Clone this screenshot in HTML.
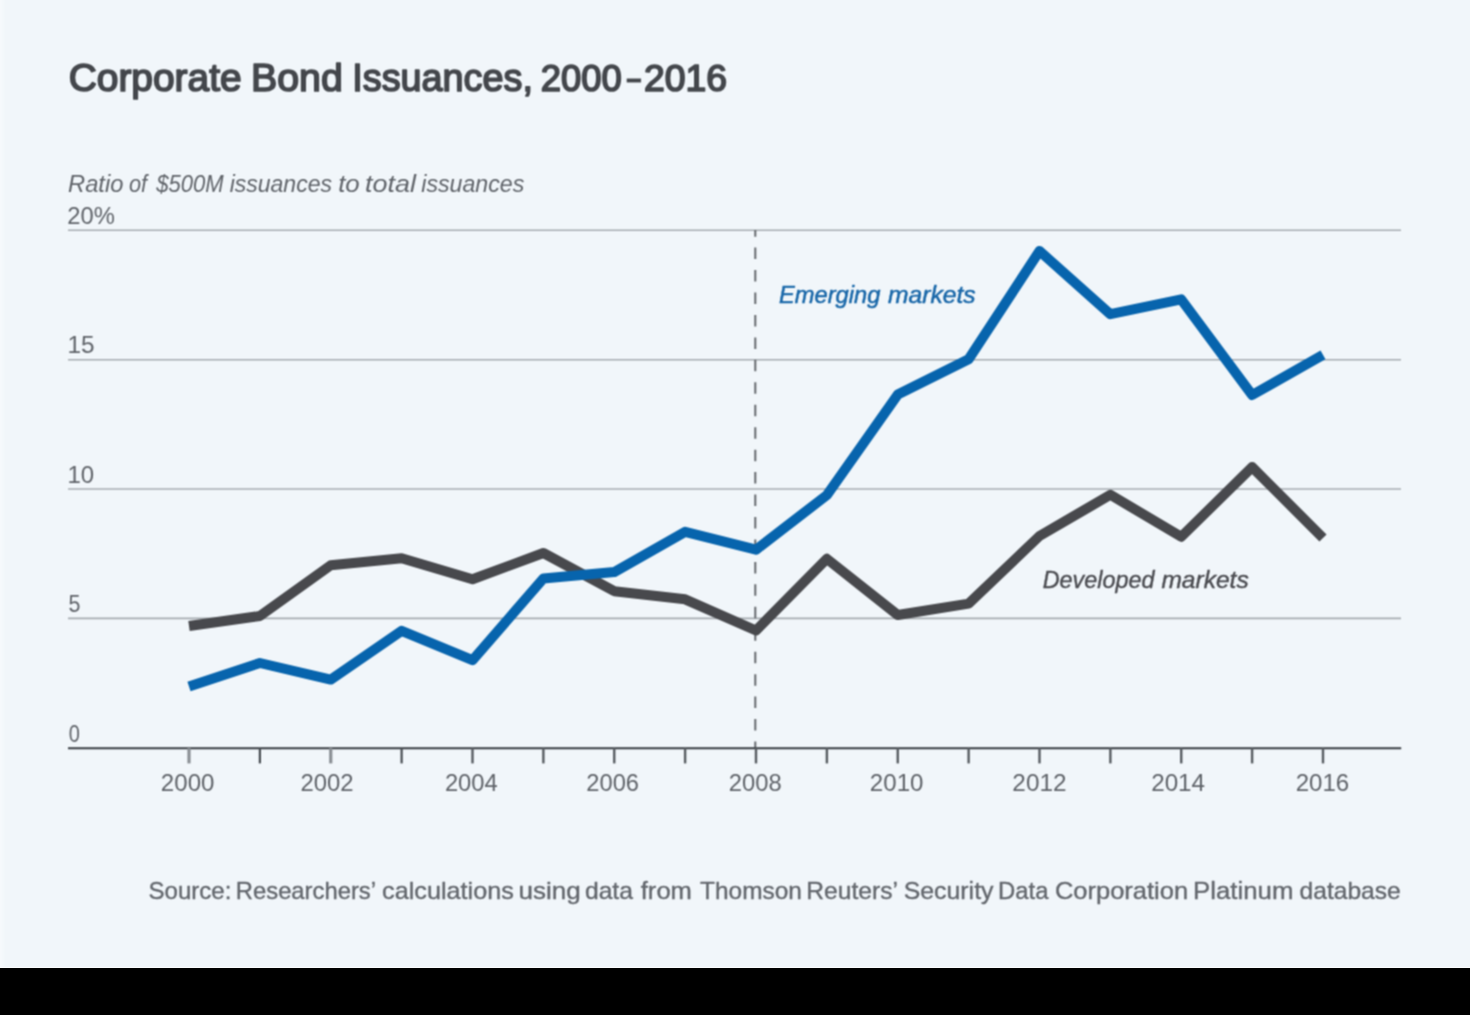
<!DOCTYPE html>
<html lang="en">
<head>
<meta charset="utf-8">
<title>Corporate Bond Issuances, 2000–2016</title>
<style>
  html, body { margin: 0; padding: 0; background: #000; }
  body { width: 1470px; height: 1015px; overflow: hidden; font-family: "Liberation Sans", sans-serif; }
  svg { display: block; }
  text { font-family: "Liberation Sans", sans-serif; }
</style>
</head>
<body>
<svg width="1470" height="1015" viewBox="0 0 1470 1015">
  <!-- frame -->
  <rect x="0" y="0" width="1470" height="1015" fill="#000000"/>
  <rect x="0" y="0" width="1470" height="968" fill="#f1f6fa"/>
  <rect x="0" y="967" width="1470" height="1" fill="#fcfdfe"/>

  <defs>
    <linearGradient id="edge" x1="0" y1="0" x2="1" y2="0">
      <stop offset="0" stop-color="#ffffff" stop-opacity="0.4"/>
      <stop offset="1" stop-color="#ffffff" stop-opacity="0"/>
    </linearGradient>
    <filter id="soft" x="0" y="0" width="1470" height="967" filterUnits="userSpaceOnUse" color-interpolation-filters="sRGB">
      <feConvolveMatrix order="3" kernelMatrix="1 2 1 2 4 2 1 2 1" divisor="16" edgeMode="duplicate" preserveAlpha="true"/>
    </filter>
  </defs>
  <g filter="url(#soft)">
  <rect x="0" y="0" width="1470" height="967" fill="#f1f6fa"/>

  <rect x="0" y="0" width="6" height="967" fill="url(#edge)"/>

  <!-- horizontal gridlines -->
  <g stroke="#a6abb0" stroke-width="1.6" fill="none">
    <line x1="68" y1="230.3" x2="1401" y2="230.3"/>
    <line x1="68" y1="359.7" x2="1401" y2="359.7"/>
    <line x1="68" y1="489" x2="1401" y2="489"/>
    <line x1="68" y1="618.4" x2="1401" y2="618.4"/>
  </g>

  <!-- dashed 2008 marker -->
  <line x1="755.3" y1="230" x2="755.3" y2="748" stroke="#64686c" stroke-width="2" stroke-dasharray="11.5 10.95" stroke-dashoffset="4.85"/>

  <!-- data lines -->
  <polyline id="dev" fill="none" stroke="#48494d" stroke-width="10" stroke-linejoin="round" stroke-linecap="butt"
    points="189.00,626.0 259.88,616.0 330.75,565.3 401.62,558.2 472.50,579.3 543.38,553.0 614.25,591.2 685.12,599.3 756.00,630.5 826.88,558.8 897.75,615.0 968.62,603.6 1039.50,536.0 1110.38,494.8 1181.25,536.8 1252.12,467.1 1323.00,538.0"/>
  <polyline id="em" fill="none" stroke="#0764ad" stroke-width="10" stroke-linejoin="round" stroke-linecap="butt"
    points="189.00,686.5 259.88,663.0 330.75,679.6 401.62,630.9 472.50,660.2 543.38,578.5 614.25,572.1 685.12,531.8 756.00,549.7 826.88,495.1 897.75,394.6 968.62,359.3 1039.50,251.0 1110.38,314.2 1181.25,299.4 1252.12,395.0 1323.00,354.9"/>

  <!-- x axis -->
  <line x1="68" y1="748.2" x2="1401.2" y2="748.2" stroke="#363b40" stroke-width="2"/>
  <g stroke="#565b60" stroke-width="2.4">
    <line x1="189.00" y1="748" x2="189.00" y2="763.4" stroke="#8a8f94" stroke-width="3.2"/>
    <line x1="259.88" y1="748" x2="259.88" y2="763.4" stroke="#464b50" stroke-width="2.2"/>
    <line x1="330.75" y1="748" x2="330.75" y2="763.4" stroke="#8a8f94" stroke-width="3.2"/>
    <line x1="401.62" y1="748" x2="401.62" y2="763.4" stroke="#464b50" stroke-width="2.2"/>
    <line x1="472.50" y1="748" x2="472.50" y2="763.4"/>
    <line x1="543.38" y1="748" x2="543.38" y2="763.4"/>
    <line x1="614.25" y1="748" x2="614.25" y2="763.4"/>
    <line x1="685.12" y1="748" x2="685.12" y2="763.4"/>
    <line x1="756.00" y1="748" x2="756.00" y2="763.4"/>
    <line x1="826.88" y1="748" x2="826.88" y2="763.4"/>
    <line x1="897.75" y1="748" x2="897.75" y2="763.4"/>
    <line x1="968.62" y1="748" x2="968.62" y2="763.4"/>
    <line x1="1039.50" y1="748" x2="1039.50" y2="763.4"/>
    <line x1="1110.38" y1="748" x2="1110.38" y2="763.4"/>
    <line x1="1181.25" y1="748" x2="1181.25" y2="763.4"/>
    <line x1="1252.12" y1="748" x2="1252.12" y2="763.4"/>
    <line x1="1323.00" y1="748" x2="1323.00" y2="763.4"/>
  </g>

  <!-- title en dash -->
  <rect x="627" y="78.9" width="13.8" height="3.2" fill="#44474c" stroke="#44474c" stroke-width="0.6"/>

  <!-- text (each word positioned individually) -->
  <text transform="translate(68.63 90.60) scale(0.9981 1)" font-size="39" fill="#44474c" stroke="#44474c" stroke-width="1.7" stroke-linejoin="round">Corporate</text>
  <text transform="translate(251.08 90.60) scale(1.0076 1)" font-size="39" fill="#44474c" stroke="#44474c" stroke-width="1.7" stroke-linejoin="round">Bond</text>
  <text transform="translate(352.30 90.60) scale(0.9691 1)" font-size="39" fill="#44474c" stroke="#44474c" stroke-width="1.7" stroke-linejoin="round">Issuances,</text>
  <text transform="translate(540.74 90.60) scale(0.9855 1)" font-size="37" fill="#44474c" stroke="#44474c" stroke-width="1.7" stroke-linejoin="round">2000</text>
  <text transform="translate(644.00 90.60) scale(1.0104 1)" font-size="37" fill="#44474c" stroke="#44474c" stroke-width="1.7" stroke-linejoin="round">2016</text>
  <text transform="translate(68.03 192.30) scale(1.0091 1)" font-size="23.5" fill="#5f6369" font-style="italic">Ratio</text>
  <text transform="translate(128.92 192.30) scale(0.9268 1)" font-size="23.5" fill="#5f6369" font-style="italic">of</text>
  <text transform="translate(156.15 192.30) scale(0.9397 1)" font-size="23.5" fill="#5f6369" font-style="italic">$500M</text>
  <text transform="translate(229.64 192.30) scale(0.9801 1)" font-size="23.5" fill="#5f6369" font-style="italic">issuances</text>
  <text transform="translate(338.19 192.30) scale(1.0996 1)" font-size="23.5" fill="#5f6369" font-style="italic">to</text>
  <text transform="translate(365.06 192.30) scale(1.1457 1)" font-size="23.5" fill="#5f6369" font-style="italic">total</text>
  <text transform="translate(421.24 192.30) scale(0.9868 1)" font-size="23.5" fill="#5f6369" font-style="italic">issuances</text>
  <text transform="translate(67.28 224.20) scale(1.0125 1)" font-size="23.5" fill="#5f6369">20%</text>
  <text transform="translate(67.38 353.20) scale(1.0372 1)" font-size="23.5" fill="#5f6369">15</text>
  <text transform="translate(67.40 482.50) scale(1.0214 1)" font-size="23.5" fill="#5f6369">10</text>
  <text transform="translate(68.53 611.70) scale(0.9137 1)" font-size="23.5" fill="#5f6369">5</text>
  <text transform="translate(68.78 741.60) scale(0.8511 1)" font-size="23.5" fill="#5f6369">0</text>
  <text transform="translate(160.87 791.00) scale(1.0045 1)" font-size="24" fill="#5f6369">2000</text>
  <text transform="translate(300.48 791.00) scale(0.9962 1)" font-size="24" fill="#5f6369">2002</text>
  <text transform="translate(444.89 791.00) scale(0.9909 1)" font-size="24" fill="#5f6369">2004</text>
  <text transform="translate(586.29 791.00) scale(0.9884 1)" font-size="24" fill="#5f6369">2006</text>
  <text transform="translate(728.78 791.00) scale(0.9923 1)" font-size="24" fill="#5f6369">2008</text>
  <text transform="translate(869.87 791.00) scale(1.0045 1)" font-size="24" fill="#5f6369">2010</text>
  <text transform="translate(1012.36 791.00) scale(1.0157 1)" font-size="24" fill="#5f6369">2012</text>
  <text transform="translate(1151.16 791.00) scale(1.0103 1)" font-size="24" fill="#5f6369">2014</text>
  <text transform="translate(1295.67 791.00) scale(1.0040 1)" font-size="24" fill="#5f6369">2016</text>
  <text transform="translate(779.08 302.70) scale(0.9864 1)" font-size="24" fill="#1766a8" font-style="italic" stroke="#1766a8" stroke-width="0.5" stroke-linejoin="round">Emerging</text>
  <text transform="translate(888.06 302.70) scale(1.0272 1)" font-size="24" fill="#1766a8" font-style="italic" stroke="#1766a8" stroke-width="0.5" stroke-linejoin="round">markets</text>
  <text transform="translate(1042.74 587.70) scale(0.9733 1)" font-size="24" fill="#4a4b50" font-style="italic" stroke="#4a4b50" stroke-width="0.4" stroke-linejoin="round">Developed</text>
  <text transform="translate(1161.42 587.70) scale(1.0237 1)" font-size="24" fill="#4a4b50" font-style="italic" stroke="#4a4b50" stroke-width="0.4" stroke-linejoin="round">markets</text>
  <text transform="translate(148.52 899.30) scale(1.0277 1)" font-size="23.4" fill="#62666c" stroke="#62666c" stroke-width="0.35" stroke-linejoin="round">Source:</text>
  <text transform="translate(235.81 899.30) scale(1.0178 1)" font-size="23.4" fill="#62666c" stroke="#62666c" stroke-width="0.35" stroke-linejoin="round">Researchers’</text>
  <text transform="translate(382.09 899.30) scale(1.0782 1)" font-size="23.4" fill="#62666c" stroke="#62666c" stroke-width="0.35" stroke-linejoin="round">calculations</text>
  <text transform="translate(518.45 899.30) scale(1.1126 1)" font-size="23.4" fill="#62666c" stroke="#62666c" stroke-width="0.35" stroke-linejoin="round">using</text>
  <text transform="translate(584.90 899.30) scale(1.0554 1)" font-size="23.4" fill="#62666c" stroke="#62666c" stroke-width="0.35" stroke-linejoin="round">data</text>
  <text transform="translate(640.77 899.30) scale(1.0935 1)" font-size="23.4" fill="#62666c" stroke="#62666c" stroke-width="0.35" stroke-linejoin="round">from</text>
  <text transform="translate(700.09 899.30) scale(1.0437 1)" font-size="23.4" fill="#62666c" stroke="#62666c" stroke-width="0.35" stroke-linejoin="round">Thomson</text>
  <text transform="translate(806.25 899.30) scale(1.0538 1)" font-size="23.4" fill="#62666c" stroke="#62666c" stroke-width="0.35" stroke-linejoin="round">Reuters’</text>
  <text transform="translate(903.70 899.30) scale(1.0627 1)" font-size="23.4" fill="#62666c" stroke="#62666c" stroke-width="0.35" stroke-linejoin="round">Security</text>
  <text transform="translate(998.11 899.30) scale(1.0189 1)" font-size="23.4" fill="#62666c" stroke="#62666c" stroke-width="0.35" stroke-linejoin="round">Data</text>
  <text transform="translate(1054.88 899.30) scale(1.0909 1)" font-size="23.4" fill="#62666c" stroke="#62666c" stroke-width="0.35" stroke-linejoin="round">Corporation</text>
  <text transform="translate(1192.96 899.30) scale(1.1040 1)" font-size="23.4" fill="#62666c" stroke="#62666c" stroke-width="0.35" stroke-linejoin="round">Platinum</text>
  <text transform="translate(1299.51 899.30) scale(1.0523 1)" font-size="23.4" fill="#62666c" stroke="#62666c" stroke-width="0.35" stroke-linejoin="round">database</text>
  </g>
</svg>
</body>
</html>
